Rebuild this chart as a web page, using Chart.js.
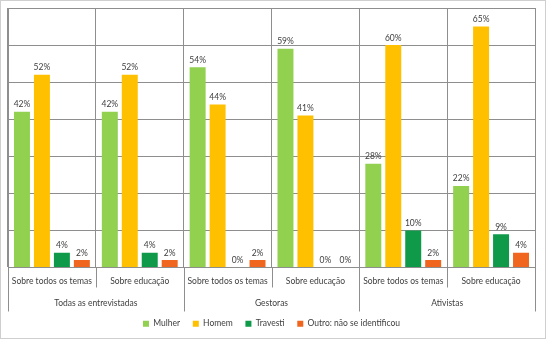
<!DOCTYPE html>
<html>
<head>
<meta charset="utf-8">
<script src="https://cdn.jsdelivr.net/npm/chart.js@4"></script>
<style>
    html, body { margin: 0; padding: 0; background: #fff; }
    #wrap { position: relative; width: 544px; height: 337px; border: 1px solid #cfcfcf; }
</style>
</head>
<body>
<div id="wrap"><canvas id="chart"></canvas></div>
<script>
// Data (percent)
const groups = ['Todas as entrevistadas', 'Gestoras', 'Ativistas'];
const categories = ['Sobre todos os temas', 'Sobre educação', 'Sobre todos os temas', 'Sobre educação', 'Sobre todos os temas', 'Sobre educação'];
const perGroup = 2;
const mulher = [42, 42, 54, 59, 28, 22];
const homem = [52, 52, 44, 41, 60, 65];
const travesti = [4, 4, 0, 0, 10, 9];
const outro = [2, 2, 2, 0, 2, 4];
const yTicks = [0, 10, 20, 30, 40, 50, 60, 70];

const gridColor = '#8e8e8e';
const textColor = '#404040';
const fontFamily = 'Lato, "Open Sans", sans-serif';

// value labels above each bar
const barLabels = {
    id: 'barLabels',
    afterDatasetsDraw(chart) {
        const ctx = chart.ctx;
        ctx.save();
        ctx.font = '8.5px ' + fontFamily;
        ctx.fillStyle = textColor;
        ctx.textAlign = 'center';
        ctx.textBaseline = 'bottom';
        chart.data.datasets.forEach((ds, i) => {
            chart.getDatasetMeta(i).data.forEach((bar, j) => {
                ctx.fillText(ds.data[j] + '%', bar.x, bar.y - 3);
            });
        });
        ctx.restore();
    }
};

// second row of the x axis: group names and separator lines
const groupAxis = {
    id: 'groupAxis',
    afterDraw(chart) {
        const x = chart.scales.x;
        const area = chart.chartArea;
        const ctx = chart.ctx;
        const half = (x.getPixelForValue(1) - x.getPixelForValue(0)) / 2;
        ctx.save();
        ctx.strokeStyle = gridColor;
        ctx.lineWidth = 1;
        for (let i = 0; i <= categories.length; i++) {
            const px = Math.round(x.getPixelForValue(i) - half) + 0.5;
            const len = i % perGroup === 0 ? 44 : 20;
            ctx.beginPath();
            ctx.moveTo(px, area.bottom);
            ctx.lineTo(px, area.bottom + len);
            ctx.stroke();
        }
        ctx.font = '8.5px ' + fontFamily;
        ctx.fillStyle = textColor;
        ctx.textAlign = 'center';
        ctx.textBaseline = 'middle';
        groups.forEach((g, k) => {
            const cx = (x.getPixelForValue(k * perGroup) + x.getPixelForValue(k * perGroup + perGroup - 1)) / 2;
            ctx.fillText(g, cx, area.bottom + 35.5);
        });
        ctx.restore();
    }
};

new Chart(document.getElementById('chart'), {
    type: 'bar',
    data: {
        labels: categories,
        datasets: [
            { label: 'Mulher', data: mulher, backgroundColor: '#92D050' },
            { label: 'Homem', data: homem, backgroundColor: '#FFC000' },
            { label: 'Travesti', data: travesti, backgroundColor: '#0E9A48' },
            { label: 'Outro: não se identificou', data: outro, backgroundColor: '#F0661E' }
        ]
    },
    options: {
        responsive: true,
        maintainAspectRatio: false,
        animation: false,
        categoryPercentage: 0.909,
        barPercentage: 0.8,
        layout: { padding: { left: 7, right: 10, top: 7, bottom: 0 } },
        plugins: {
            tooltip: { enabled: false },
            legend: {
                position: 'bottom',
                labels: {
                    boxWidth: 6,
                    boxHeight: 6,
                    color: textColor,
                    padding: 4,
                    font: { family: fontFamily, size: 8.5 },
                    // a little extra room between legend items
                    generateLabels(chart) {
                        const items = Chart.defaults.plugins.legend.labels.generateLabels(chart);
                        return items.map((l, i) => {
                            if (i < items.length - 1) l.text = l.text + '    ';
                            return l;
                        });
                    }
                }
            }
        },
        scales: {
            x: {
                grid: { offset: true, color: gridColor, drawTicks: false },
                border: { color: gridColor },
                ticks: { color: textColor, padding: 9, maxRotation: 0, autoSkip: false, font: { family: fontFamily, size: 8.5 } },
                afterFit(scale) { scale.height = 48; }
            },
            y: {
                min: 0,
                max: 70,
                afterBuildTicks(scale) { scale.ticks = yTicks.map(v => ({ value: v })); },
                grid: { color: gridColor, drawTicks: false },
                border: { color: gridColor },
                ticks: { display: false }
            }
        }
    },
    plugins: [barLabels, groupAxis]
});
</script>
</body>
</html>
